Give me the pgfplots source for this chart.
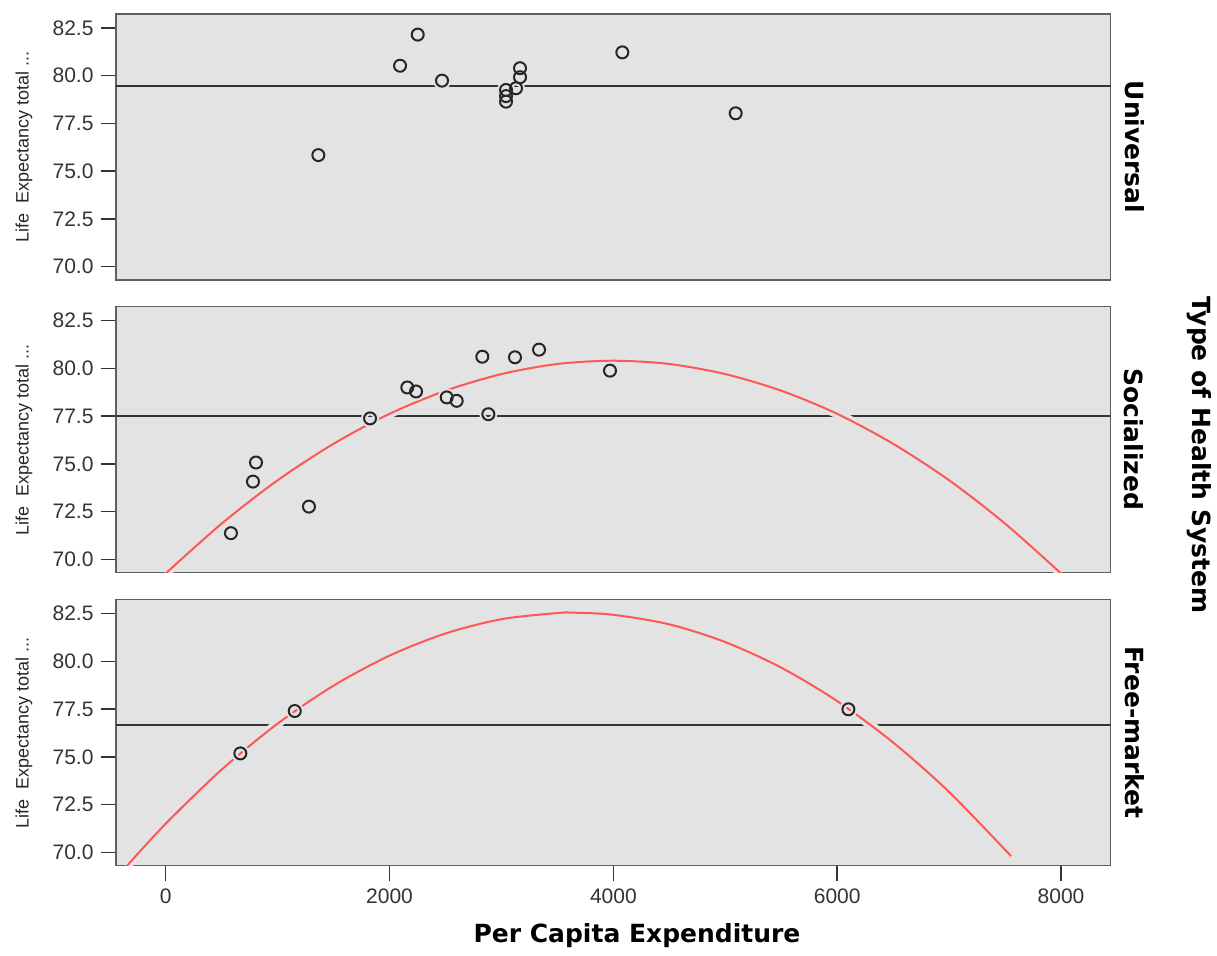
\documentclass[border=0pt]{standalone}
\usepackage{fontspec}
\setmainfont{Liberation Sans}
\newfontfamily\dv{DejaVu Sans}
\usepackage{pgfplots}
\pgfplotsset{compat=1.18}
\definecolor{bgpanel}{RGB}{227,227,227}
\definecolor{fitred}{RGB}{252,88,88}
\definecolor{framec}{RGB}{95,95,95}

\pgfplotsset{
 panel/.style={
   scale only axis, width=994.7pt, height=266pt,
   xmin=-444, xmax=8444, ymin=69.3, ymax=83.23,
   axis background/.style={fill=bgpanel},
   axis line style={draw=framec, line width=1.5pt},
   ytick={70,72.5,75,77.5,80,82.5},
   yticklabels={70.0,72.5,75.0,77.5,80.0,82.5},
   ytick pos=left, xtick pos=left,
   tick align=outside, major tick length=15pt,
   tick style={black!80, line width=1.6pt},
   tick label style={font=\fontsize{21}{24}\selectfont, text=black!80},
   yticklabel style={xshift=-4pt},
   xticklabel style={yshift=-5pt},
   ylabel={Life~ Expectancy total ...},
   every axis y label/.style={at={(axis description cs:-0.0925,0.5)}, rotate=90, anchor=center, font=\fontsize{18}{20}\selectfont, text=black!85},
 },
 meanline/.style={draw=black!80, line width=2pt},
 halo/.style={draw=bgpanel, line width=9pt, smooth},
 fit/.style={draw=fitred, line width=2pt, smooth},
 pts/.style={only marks, mark=o, mark size=6pt, mark options={draw=black!85, line width=2pt}},
 ptshalo/.style={only marks, mark=o, mark size=6pt, mark options={draw=bgpanel, fill=none, line width=6pt}},
}

\pgfplotstableread{
x y
1364 75.84
2094 80.52
2252 82.15
2469 79.74
3041 79.25
3041 78.93
3041 78.64
3130 79.34
3166 80.39
3166 79.92
4080 81.22
5093 78.03
}\univ

\pgfplotstableread{
x y
583 71.37
780 74.07
807 75.07
1280 72.76
1826 77.38
2159 79.00
2237 78.79
2511 78.48
2600 78.30
2883 77.60
2829 80.61
3121 80.58
3336 80.98
3970 79.88
}\soc

\pgfplotstableread{
x y
667 75.18
1153 77.40
6100 77.49
}\free

\pgfplotstableread{
x y
0 69.26
500 71.87
1000 74.14
1500 76.05
2000 77.62
2500 78.83
3000 79.70
3500 80.23
4000 80.40
4500 80.23
5000 79.70
5500 78.83
6000 77.62
6500 76.05
7000 74.14
7500 71.87
8000 69.26
}\socfit

\pgfplotstableread{
x y
-349 69.27
0 71.50
500 74.33
1000 76.74
1500 78.73
2000 80.30
2500 81.46
3000 82.21
3500 82.53
3642 82.55
4000 82.44
4500 81.94
5000 81.01
5500 79.67
6000 77.92
6500 75.75
7000 73.16
7554 69.80
}\freefit

\begin{document}
\begin{tikzpicture}
\useasboundingbox (0,0) rectangle (1217pt,955pt);

% Universal
\begin{axis}[panel, at={(116pt,675pt)}, anchor=south west, xtick=\empty]
\addplot[meanline] coordinates {(-444,79.46) (8444,79.46)};
\addplot[ptshalo] table[x=x,y=y] {\univ};
\addplot[pts] table[x=x,y=y] {\univ};
\end{axis}

% Socialized
\begin{axis}[panel, at={(116pt,382.3pt)}, anchor=south west, xtick=\empty]
\addplot[meanline] coordinates {(-444,77.48) (8444,77.48)};
\addplot[halo] table[x=x,y=y] {\socfit};
\addplot[ptshalo] table[x=x,y=y] {\soc};
\addplot[fit] table[x=x,y=y] {\socfit};
\addplot[pts] table[x=x,y=y] {\soc};
\end{axis}

% Free-market
\begin{axis}[panel, at={(116pt,89.3pt)}, anchor=south west,
  xtick={0,2000,4000,6000,8000}, xticklabels={0,2000,4000,6000,8000}]
\addplot[meanline] coordinates {(-444,76.68) (8444,76.68)};
\addplot[halo] table[x=x,y=y] {\freefit};
\addplot[ptshalo] table[x=x,y=y] {\free};
\addplot[fit] table[x=x,y=y] {\freefit};
\addplot[pts] table[x=x,y=y] {\free};
\end{axis}

\node[font=\dv\bfseries\fontsize{25}{28}\selectfont] at (637pt,19pt) {Per Capita Expenditure};
\node[rotate=-90, font=\dv\bfseries\fontsize{25}{28}\selectfont] at (1135pt,808pt) {Universal};
\node[rotate=-90, font=\dv\bfseries\fontsize{25}{28}\selectfont] at (1134pt,515.7pt) {Socialized};
\node[rotate=-90, font=\dv\bfseries\fontsize{25}{28}\selectfont] at (1135pt,222.5pt) {Free-market};
\node[rotate=-90, font=\dv\bfseries\fontsize{25}{28}\selectfont] at (1199pt,500pt) {Type of Health System};
\end{tikzpicture}
\end{document}
